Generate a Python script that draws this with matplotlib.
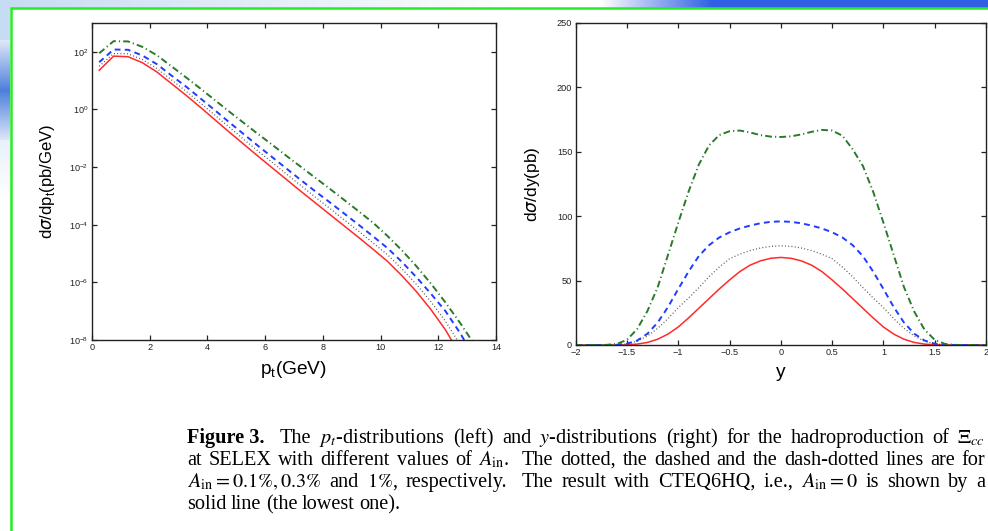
import numpy as np
import matplotlib
matplotlib.use("Agg")
import matplotlib.pyplot as plt
from matplotlib.ticker import FixedLocator, FuncFormatter

# ---------------- data ----------------
# transverse-momentum grid (GeV) and log10 of dsigma/dpt (pb/GeV)
pt = [0.25, 0.75, 1.25, 1.75, 2.25, 2.75, 3.25, 3.75, 4.25, 4.75, 5.25, 5.75, 6.25,
      6.75, 7.25, 7.75, 8.25, 8.75, 9.25, 9.75, 10.25, 10.75, 11.25, 11.75, 12.25,
      12.75, 13.25]
log_pt_cteq = [1.36, 1.85, 1.83, 1.62, 1.30, 0.90, 0.50, 0.08, -0.35, -0.78, -1.20,
               -1.62, -2.03, -2.44, -2.85, -3.25, -3.65, -4.05, -4.45, -4.86, -5.28,
               -5.78, -6.33, -6.95, -7.65, -8.50, -9.40]
log_pt_a01 = [1.50, 1.94, 1.93, 1.73, 1.42, 1.03, 0.64, 0.23, -0.19, -0.61, -1.03,
              -1.44, -1.84, -2.25, -2.65, -3.05, -3.44, -3.84, -4.23, -4.64, -5.05,
              -5.54, -6.08, -6.68, -7.35, -8.15, -9.00]
log_pt_a03 = [1.64, 2.08, 2.07, 1.87, 1.57, 1.18, 0.80, 0.39, -0.02, -0.44, -0.85,
              -1.26, -1.66, -2.06, -2.46, -2.85, -3.23, -3.62, -4.01, -4.41, -4.82,
              -5.30, -5.83, -6.40, -7.00, -7.75, -8.60]
log_pt_a1 = [1.95, 2.37, 2.36, 2.17, 1.88, 1.50, 1.12, 0.73, 0.33, -0.07, -0.46,
             -0.85, -1.23, -1.62, -2.00, -2.38, -2.76, -3.15, -3.54, -3.94, -4.40,
             -4.90, -5.45, -6.05, -6.70, -7.40, -8.15]

# rapidity grid and dsigma/dy (pb)
rap = [-2.0, -1.9, -1.8, -1.7, -1.6, -1.5, -1.4, -1.3, -1.2, -1.1, -1.0, -0.9, -0.8,
       -0.7, -0.6, -0.5, -0.4, -0.3, -0.2, -0.1, 0.0, 0.1, 0.2, 0.3, 0.4, 0.5, 0.6,
       0.7, 0.8, 0.9, 1.0, 1.1, 1.2, 1.3, 1.4, 1.5, 1.6, 1.7, 1.8, 1.9, 2.0]
y_cteq = [0, 0, 0, 0, 0, 0.2, 0.7, 2.0, 4.5, 8.5, 14.0, 21.0, 28.5, 36.0, 43.5, 50.5,
          57.0, 62.0, 65.3, 67.3, 68.0, 67.3, 65.3, 62.0, 57.0, 50.5, 43.5, 36.0,
          28.5, 21.0, 14.0, 8.5, 4.5, 2.0, 0.7, 0.2, 0, 0, 0, 0, 0]
y_a01 = [0, 0, 0, 0, 0.2, 0.9, 3.0, 7.0, 13.0, 20.5, 29.0, 36.5, 44.5, 53.0, 60.5,
         67.0, 70.5, 73.3, 75.3, 76.6, 77.0, 76.6, 75.3, 73.3, 70.5, 67.0, 60.5,
         53.0, 44.5, 36.5, 29.0, 20.5, 13.0, 7.0, 3.0, 0.9, 0.2, 0, 0, 0, 0]
y_a03 = [0, 0, 0, 0, 0.2, 1.0, 3.5, 8.8, 17.5, 29.5, 43.5, 57.0, 69.0, 77.5, 83.5,
         87.5, 90.5, 92.7, 94.5, 95.6, 96.0, 95.6, 94.5, 92.7, 90.5, 87.5, 83.5,
         77.5, 69.0, 57.0, 43.5, 29.5, 17.5, 8.8, 3.5, 1.0, 0.2, 0, 0, 0, 0]
y_a1 = [0, 0, 0, 0.1, 0.8, 4.0, 12.5, 26.5, 45.0, 70.0, 95.0, 119.0, 140.0, 155.0,
        163.0, 166.0, 166.5, 165.0, 163.0, 161.8, 161.5, 162.0, 163.5, 165.5, 167.0,
        166.5, 162.5, 152.0, 139.0, 119.0, 95.0, 70.0, 45.0, 26.0, 12.0, 4.0, 0.8,
        0.1, 0, 0, 0]

pt_ticks = [0, 2, 4, 6, 8, 10, 12, 14]
log_ticks = [2, 0, -2, -4, -6, -8]
rap_ticks = [-2, -1.5, -1, -0.5, 0, 0.5, 1, 1.5, 2]
rap_tick_labels = ["\u22122", "\u22121.5", "\u22121", "\u22120.5", "0", "0.5", "1", "1.5", "2"]
ydist_ticks = [0, 50, 100, 150, 200, 250]

# caption, one list of words per line; "||" marks a sentence break
caption_lines = [
    ["**Figure 3.", "||", "The", r"$p_t$-distributions", "(left)", "and",
     r"$y$-distributions", "(right)", "for", "the", "hadroproduction", "of",
     r"$\Xi_{cc}$"],
    ["at", "SELEX", "with", "different", "values", "of", r"$A_{\rm in}$.", "||",
     "The", "dotted,", "the", "dashed", "and", "the", "dash-dotted", "lines",
     "are", "for"],
    [r"$A_{\rm in} = 0.1\%, 0.3\%$", "and", r"$1\%$,", "respectively.", "||", "The",
     "result", "with", "CTEQ6HQ,", "i.e.,", r"$A_{\rm in} = 0$", "is", "shown",
     "by", "a"],
    ["solid", "line", "(the", "lowest", "one)."],
]

# ---------------- styles ----------------
styles = [
    dict(color="#ff2a2a", lw=1.1, ls="-"),                       # A_in = 0
    dict(color="#555555", lw=0.9, ls=(0, (0.8, 1.8))),           # A_in = 0.1%
    dict(color="#1f3cff", lw=1.4, ls=(0, (3.0, 2.2))),           # A_in = 0.3%
    dict(color="#2b7a2b", lw=1.4, ls=(0, (3.5, 1.6, 0.6, 1.6))), # A_in = 1%
]

W, H = 988, 531
fig = plt.figure(figsize=(W / 100, H / 100), dpi=100)
fig.patch.set_facecolor("white")

# ---------------- slide background ----------------
bg = fig.add_axes([0, 0, 1, 1], zorder=-10)
bg.set_xlim(0, W)
bg.set_ylim(H, 0)
bg.axis("off")
img = np.ones((H, W, 3))
cols = np.arange(W)
light = np.array([0.78, 0.86, 0.96])
blue = np.array([0.19, 0.38, 0.90])
# top band
t = np.clip((cols - 600) / 110.0, 0, 1)[:, None]
left_fade = np.clip(1 - cols / 520.0, 0, 1)[:, None]
band = (1 - t) * (left_fade * light + (1 - left_fade) * np.ones(3)) + t * blue
img[:8, :, :] = band[None, :, :]
# left swoosh
for r in range(H):
    if r < 40:
        c, a = light, 1.0
    elif r < 140:
        c = np.array([0.30, 0.50, 0.86])
        a = np.clip(1 - abs(r - 90) / 55.0, 0, 1) * 0.9 + 0.1
    else:
        c, a = light, np.clip(1 - (r - 140) / 60.0, 0, 1) * 0.4
    img[r, :10, :] = a * c + (1 - a) * img[r, :10, :]
bg.imshow(img, extent=(0, W, H, 0), aspect="auto", interpolation="bilinear")
# green frame
bg.plot([11, 11, W + 5], [H + 5, 7.5, 7.5], color="#22ee22", lw=1.8,
        solid_joinstyle="miter")

TICK_SIZE = 6.6

def style_axes(ax):
    for s in ax.spines.values():
        s.set_linewidth(1.0)
        s.set_color("#222222")
    ax.tick_params(direction="in", length=3.5, width=0.9, top=True, right=True,
                   which="major", pad=2.5, labelsize=TICK_SIZE, colors="#222222")
    ax.tick_params(which="minor", length=0)
    for lab in ax.get_xticklabels() + ax.get_yticklabels():
        lab.set_fontfamily("Liberation Sans")

# ---------------- left panel: pt distribution ----------------
ax1 = fig.add_axes([92 / W, 1 - 340 / H, (496 - 92) / W, (340 - 23) / H])
ax1.set_yscale("log")
for lg, st in zip([log_pt_cteq, log_pt_a01, log_pt_a03, log_pt_a1], styles):
    ax1.plot(pt, 10.0 ** np.array(lg), **st)
ax1.set_xlim(0, 14)
ax1.set_ylim(1e-8, 1e3)
ax1.xaxis.set_major_locator(FixedLocator(pt_ticks))
ax1.yaxis.set_major_locator(FixedLocator([10.0 ** k for k in log_ticks]))
ax1.yaxis.set_minor_locator(FixedLocator([]))
ax1.yaxis.set_major_formatter(FuncFormatter(
    lambda v, p: r"$\mathregular{10^{%d}}$" % int(round(np.log10(v)))))
style_axes(ax1)
ax1.set_xlabel(r"p$_\mathregular{t}$(GeV)", fontfamily="Liberation Sans",
               fontsize=13.8, labelpad=5)
ax1.set_ylabel(r"d$\sigma$/dp$_\mathregular{t}$(pb/GeV)", fontfamily="Liberation Sans",
               fontsize=12, labelpad=9)

# ---------------- right panel: rapidity distribution ----------------
ax2 = fig.add_axes([575.7 / W, 1 - 345 / H, (986 - 575.7) / W, (345 - 23) / H])
for yv, st in zip([y_cteq, y_a01, y_a03, y_a1], styles):
    ax2.plot(rap, yv, **st)
ax2.set_xlim(-2, 2)
ax2.set_ylim(0, 250)
ax2.xaxis.set_major_locator(FixedLocator(rap_ticks))
ax2.set_xticklabels(rap_tick_labels)
ax2.yaxis.set_major_locator(FixedLocator(ydist_ticks))
style_axes(ax2)
ax2.set_xlabel("y", fontfamily="Liberation Sans", fontsize=13.8, labelpad=5)
ax2.set_ylabel(r"d$\sigma$/dy(pb)", fontfamily="Liberation Sans",
               fontsize=12.5, labelpad=11)

# ---------------- caption (justified) ----------------
cap = dict(fontfamily="Liberation Serif", fontsize=14.6, math_fontfamily="stix",
           va="baseline", ha="left", transform=bg.transData)
left_x, right_x = 187, 985
baselines = [443, 465, 487, 509]
renderer = fig.canvas.get_renderer()

for li, (words, base) in enumerate(zip(caption_lines, baselines)):
    justify = li < len(caption_lines) - 1
    items, weights = [], []
    pending = 1.0
    for w in words:
        if w == "||":
            pending = 1.9
            continue
        bold = w.startswith("**")
        txt = bg.text(0, base, w[2:] if bold else w,
                      fontweight="bold" if bold else "normal", **cap)
        items.append(txt)
        weights.append(pending if items[:-1] else 0.0)
        pending = 1.0
    widths = [t.get_window_extent(renderer).width for t in items]
    if justify:
        unit = (right_x - left_x - sum(widths)) / sum(weights)
    else:
        unit = 4.5
    x = left_x
    for t, wdt, wt in zip(items, widths, weights):
        x += wt * unit
        t.set_x(x)
        x += wdt

fig.savefig("out.png", dpi=100)
